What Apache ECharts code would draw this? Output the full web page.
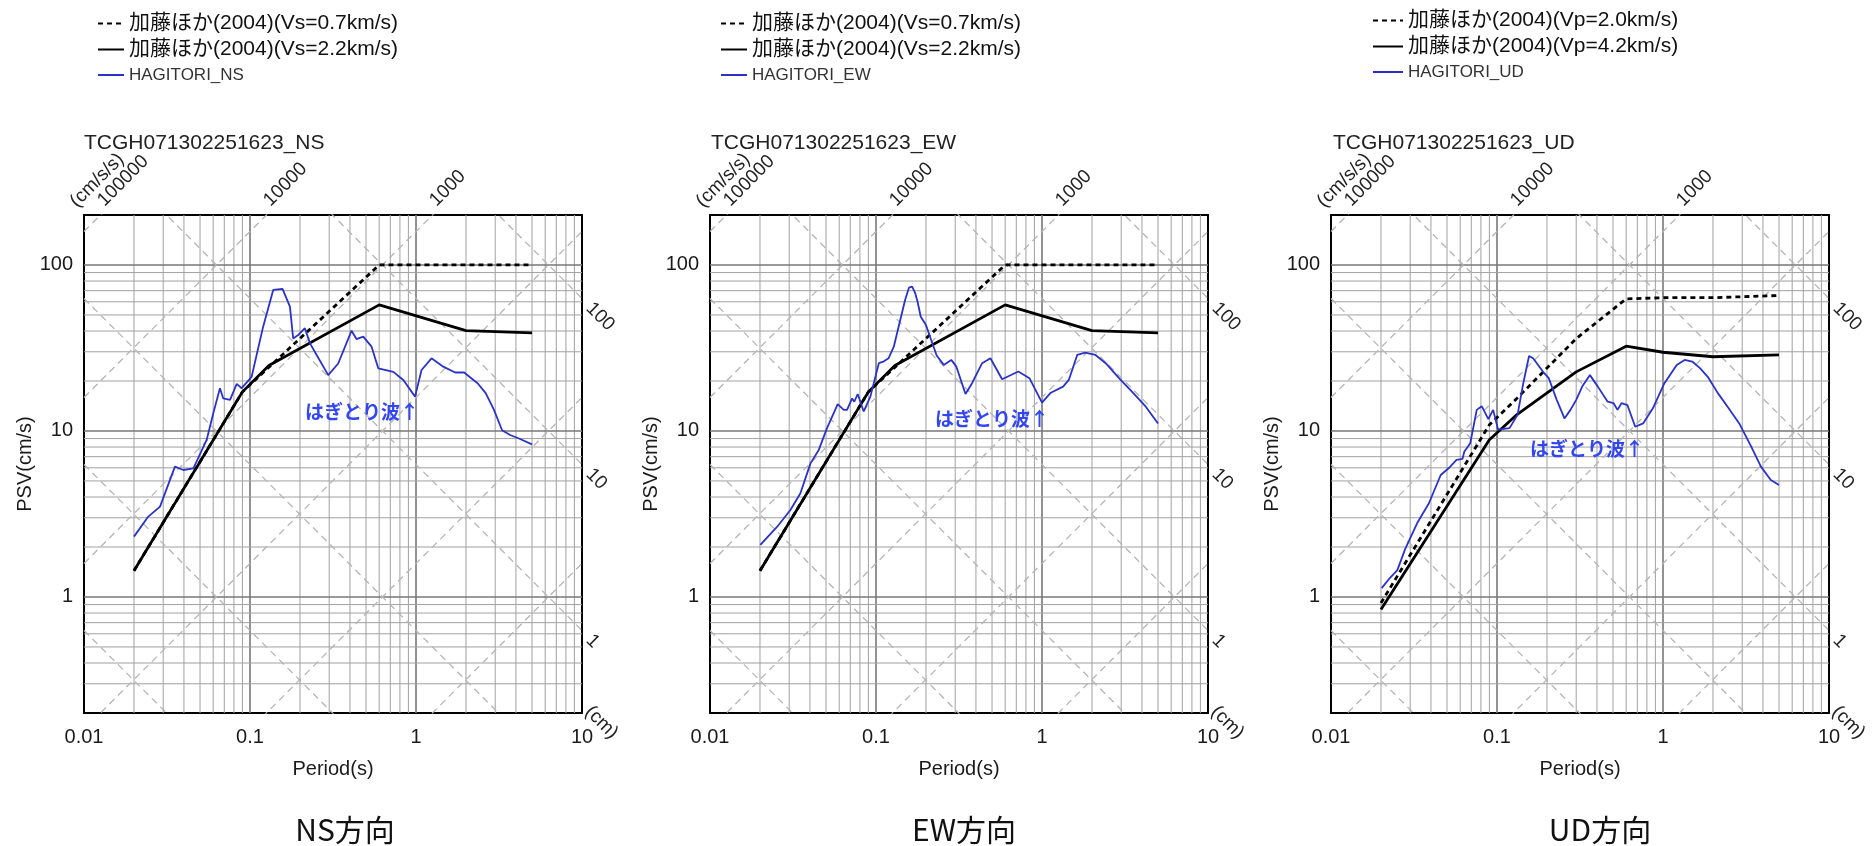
<!DOCTYPE html>
<html>
<head>
<meta charset="utf-8">
<script src="https://cdn.jsdelivr.net/npm/echarts@6/dist/echarts.min.js"></script>
<style>
  html, body { margin: 0; padding: 0; background: #ffffff; }
  #chart { width: 1876px; height: 846px; }
</style>
</head>
<body>
<div id="chart"></div>
<script>
// Tripartite pseudo-velocity response spectra (NS / EW / UD) compared with
// the Kato et al. (2004) upper-level spectra.

// ---- axis ranges and tripartite reference values ----
const periodRange = [0.01, 10];          // s
const psvRange = [0.2, 200];             // cm/s
const accLines = [1, 10, 100, 1000, 10000, 100000];   // cm/s/s
const dispLines = [0.001, 0.01, 0.1, 1, 10, 100];     // cm
const accLabels = [100000, 10000, 1000];
const dispLabels = [100, 10, 1];

// ---- Kato et al. (2004), horizontal ----
const katoVs07Period = [0.02, 0.09, 0.6, 5.0];
const katoVs07Psv    = [1.44, 17.2, 100, 100];
const katoVs22Period = [0.02, 0.09, 0.13, 0.6, 2.0, 5.0];
const katoVs22Psv    = [1.44, 17.2, 24.8, 57.5, 40.2, 39.0];

// ---- Kato et al. (2004), vertical ----
const katoVp20Period = [0.02, 0.09, 0.13, 0.3, 0.6, 1.0, 2.0, 5.0];
const katoVp20Psv    = [0.92, 10.9, 15.5, 36.0, 62.5, 63.5, 63.5, 65.5];
const katoVp42Period = [0.02, 0.09, 0.13, 0.3, 0.6, 1.0, 2.0, 5.0];
const katoVp42Psv    = [0.84, 8.85, 12.4, 22.7, 32.4, 29.8, 28.0, 28.7];

// ---- stripped (hagitori) waves ----
const nsPeriod = [0.02, 0.0244, 0.0287, 0.0353, 0.0397, 0.0456, 0.0548, 0.0601, 0.0659, 0.069,
  0.0758, 0.0832, 0.0891, 0.1023, 0.12, 0.138, 0.157, 0.174, 0.182, 0.195,
  0.214, 0.23, 0.252, 0.296, 0.34, 0.409, 0.438, 0.481, 0.54, 0.593,
  0.73, 0.839, 0.987, 1.08, 1.24, 1.46, 1.72, 1.95, 2.22, 2.35,
  2.63, 2.95, 3.3, 3.69, 4.14, 5.0];
const nsPsv = [2.31, 3.05, 3.5, 6.1, 5.82, 5.96, 8.83, 12.8, 18.1, 15.7,
  15.4, 19.2, 18.1, 21.2, 42.5, 70.7, 71.7, 56.1, 36.1, 37.8,
  41.6, 33.7, 28.7, 21.7, 25.5, 40.2, 35.8, 37.0, 32.2, 23.8,
  22.7, 20.3, 16.1, 23.3, 27.4, 24.4, 22.5, 22.5, 20.3, 19.4,
  16.9, 13.4, 10.1, 9.46, 9.04, 8.3];

const ewPeriod = [0.0201, 0.0254, 0.0305, 0.035, 0.0403, 0.0452, 0.0507, 0.0588, 0.0639, 0.0669,
  0.0718, 0.074, 0.0776, 0.0843, 0.0925, 0.104, 0.111, 0.119, 0.128, 0.14,
  0.15, 0.158, 0.165, 0.172, 0.178, 0.186, 0.2, 0.215, 0.232, 0.256,
  0.284, 0.305, 0.346, 0.379, 0.436, 0.489, 0.575, 0.72, 0.84, 1.0,
  1.13, 1.34, 1.45, 1.63, 1.82, 2.1, 2.45, 2.91, 3.55, 4.22, 5.0];
const ewPsv = [2.06, 2.65, 3.34, 4.2, 6.38, 7.69, 10.4, 14.5, 13.4, 13.4,
  15.7, 15.0, 16.7, 13.1, 16.1, 25.6, 26.2, 27.4, 32.2, 46.6,
  62, 73, 74, 68, 60, 48.8, 43.5, 35.3, 28.5, 25.0,
  26.8, 24.4, 16.7, 19.4, 25.6, 27.4, 20.5, 22.8, 20.8, 14.8,
  17.0, 18.5, 20.3, 28.7, 29.6, 28.7, 25.3, 20.8, 16.9, 14.0, 11.1];

const udPeriod = [0.0202, 0.0226, 0.0251, 0.028, 0.033, 0.0389, 0.0458, 0.0511, 0.057, 0.062,
  0.0635, 0.069, 0.0755, 0.0809, 0.083, 0.0887, 0.0948, 0.1015, 0.119, 0.133,
  0.144, 0.156, 0.165, 0.189, 0.205, 0.229, 0.255, 0.277, 0.3, 0.326,
  0.363, 0.405, 0.464, 0.504, 0.532, 0.562, 0.611, 0.68, 0.759, 0.869,
  1.02, 1.21, 1.35, 1.5, 1.67, 1.86, 2.14, 2.45, 2.88, 3.4,
  3.89, 4.46, 5.0];
const udPsv = [1.13, 1.3, 1.45, 1.95, 2.78, 3.67, 5.43, 5.96, 6.69, 6.8,
  7.5, 8.43, 13.4, 14.1, 14.0, 11.8, 13.4, 10.2, 10.4, 12.5,
  19.4, 28.3, 27.4, 22.8, 20.8, 15.4, 11.9, 13.4, 15.4, 18.5,
  21.7, 18.5, 15.0, 14.7, 13.4, 14.7, 14.3, 10.6, 11.1, 13.7,
  19.4, 25.0, 26.8, 26.2, 23.9, 21.2, 16.9, 14.0, 11.1, 8.04,
  6.1, 5.07, 4.73];

// ---- panel text ----
const panelTitles = ['TCGH071302251623_NS', 'TCGH071302251623_EW', 'TCGH071302251623_UD'];
const panelCaptions = ['NS方向', 'EW方向', 'UD方向'];
const annotationText = 'はぎとり波↑';

const zip = (t, v) => t.map((x, k) => [x, v[k]]);

const panels = [
  { dashName: '加藤ほか(2004)(Vs=0.7km/s)', solidName: '加藤ほか(2004)(Vs=2.2km/s)', waveName: 'HAGITORI_NS',
    dash: zip(katoVs07Period, katoVs07Psv), solid: zip(katoVs22Period, katoVs22Psv), wave: zip(nsPeriod, nsPsv) },
  { dashName: '加藤ほか(2004)(Vs=0.7km/s)', solidName: '加藤ほか(2004)(Vs=2.2km/s)', waveName: 'HAGITORI_EW',
    dash: zip(katoVs07Period, katoVs07Psv), solid: zip(katoVs22Period, katoVs22Psv), wave: zip(ewPeriod, ewPsv) },
  { dashName: '加藤ほか(2004)(Vp=2.0km/s)', solidName: '加藤ほか(2004)(Vp=4.2km/s)', waveName: 'HAGITORI_UD',
    dash: zip(katoVp20Period, katoVp20Psv), solid: zip(katoVp42Period, katoVp42Psv), wave: zip(udPeriod, udPsv) }
];

// ---- layout ----
const gridLeft = [84, 710, 1331];
const gridTop = 215, gridSize = 498;
const legendPos = [
  { left: 92, top: 8, itemWidth: 26 },
  { left: 715, top: 8, itemWidth: 26 },
  { left: 1367, top: 5, itemWidth: 30 }
];
const titlePos = [[84, 143], [711, 143], [1333, 143]];
const captionPos = [[345, 830], [964, 830], [1600, 830]];
const notePos = [[305, 412], [935, 419], [1530, 449]];

const LATIN = "'Liberation Sans', 'Noto Sans CJK JP', sans-serif";
const CJK = "'Noto Sans CJK JP', 'Liberation Sans', sans-serif";
const INK = '#1a1a1a';
const BLUE = '#2b33c6';

// log-paper grid values inside the plotting box
const decadesT = [0.01, 0.1, 1];
const decadesV = [0.1, 1, 10, 100];
const mults = [2, 3, 4, 5, 6, 7, 8, 9];
const periodMinor = decadesT.flatMap(d => mults.map(m => +(d * m).toPrecision(3)));
const periodMajor = [0.1, 1];
const psvMinor = decadesV.flatMap(d => mults.map(m => +(d * m).toPrecision(3)))
  .filter(v => v > psvRange[0] + 1e-9 && v < psvRange[1] - 1e-9);
const psvMajor = [1, 10, 100];

const isDecade = v => { const e = Math.log10(v); return Math.abs(e - Math.round(e)) < 1e-6; };
const fmt = v => isDecade(v) ? String(Number(v.toPrecision(3))) : '';

const grids = [], xAxes = [], yAxes = [], series = [], legends = [];

panels.forEach((p, i) => {
  grids.push({ left: gridLeft[i], top: gridTop, width: gridSize, height: gridSize,
    show: true, borderColor: '#000', borderWidth: 2, backgroundColor: 'transparent' });
  xAxes.push({ type: 'log', logBase: 10, gridIndex: i, min: periodRange[0], max: periodRange[1],
    name: 'Period(s)', nameLocation: 'middle', nameGap: 46,
    nameTextStyle: { fontFamily: LATIN, fontSize: 20, color: INK },
    axisLine: { show: false }, axisTick: { show: false }, splitLine: { show: false },
    axisLabel: { formatter: fmt, fontFamily: LATIN, fontSize: 20, color: INK, margin: 14 } });
  yAxes.push({ type: 'log', logBase: 10, gridIndex: i, min: psvRange[0], max: psvRange[1],
    name: 'PSV(cm/s)', nameLocation: 'middle', nameGap: 48, nameRotate: 90,
    nameTextStyle: { fontFamily: LATIN, fontSize: 20, color: INK },
    axisLine: { show: false }, axisTick: { show: false }, splitLine: { show: false },
    axisLabel: { formatter: fmt, fontFamily: LATIN, fontSize: 20, color: INK, margin: 11 } });

  const base = { type: 'line', xAxisIndex: i, yAxisIndex: i, symbol: 'none', silent: true,
    animation: false, clip: true };

  // log-paper grid
  periodMinor.forEach(t => series.push({ ...base, z: 1, data: [[t, psvRange[0]], [t, psvRange[1]]],
    lineStyle: { color: '#a0a0a0', width: 1 } }));
  periodMajor.forEach(t => series.push({ ...base, z: 1, data: [[t, psvRange[0]], [t, psvRange[1]]],
    lineStyle: { color: '#777777', width: 1.6 } }));
  psvMinor.forEach(v => series.push({ ...base, z: 1, data: [[periodRange[0], v], [periodRange[1], v]],
    lineStyle: { color: '#a0a0a0', width: 1 } }));
  psvMajor.forEach(v => series.push({ ...base, z: 1, data: [[periodRange[0], v], [periodRange[1], v]],
    lineStyle: { color: '#777777', width: 1.6 } }));

  // tripartite diagonals: constant acceleration and constant displacement
  accLines.forEach(a => series.push({ ...base, z: 2,
    data: periodRange.map(t => [t, a * t / (2 * Math.PI)]),
    lineStyle: { color: '#b5b5b5', width: 1.3, type: [7, 5] } }));
  dispLines.forEach(d => series.push({ ...base, z: 2,
    data: periodRange.map(t => [t, 2 * Math.PI * d / t]),
    lineStyle: { color: '#b5b5b5', width: 1.3, type: [7, 5] } }));

  // spectra
  series.push({ ...base, silent: false, z: 5, name: p.dashName, data: p.dash,
    itemStyle: { color: '#000' }, lineStyle: { color: '#000', width: 2.8, type: [5, 4] } });
  series.push({ ...base, silent: false, z: 5, name: p.solidName, data: p.solid,
    itemStyle: { color: '#000' }, lineStyle: { color: '#000', width: 2.8 } });
  series.push({ ...base, silent: false, z: 6, name: p.waveName, data: p.wave,
    itemStyle: { color: BLUE }, lineStyle: { color: BLUE, width: 1.8 } });

  legends.push({
    orient: 'vertical', left: legendPos[i].left, top: legendPos[i].top,
    itemWidth: legendPos[i].itemWidth, itemHeight: 14, itemGap: 5, selectedMode: false,
    itemStyle: { opacity: 0, borderWidth: 0 },
    textStyle: { fontFamily: LATIN, fontSize: 21, color: '#111', lineHeight: 20 },
    data: [
      { name: p.dashName },
      { name: p.solidName },
      { name: p.waveName, textStyle: { fontSize: 17, color: '#333', lineHeight: 20 } }
    ]
  });
});

const chart = echarts.init(document.getElementById('chart'), null, { renderer: 'canvas' });
chart.setOption({
  backgroundColor: '#ffffff',
  animation: false,
  grid: grids, xAxis: xAxes, yAxis: yAxes, legend: legends, series: series
});

// ---- text overlays positioned through the axes ----
const graphics = [];
const txt = (x, y, text, opt) => graphics.push({
  type: 'text', x: x, y: y, rotation: opt.rotation || 0, silent: true, z: 20,
  style: { text: text, fill: opt.color || INK, fontSize: opt.size || 19, fontFamily: opt.family || LATIN,
    fontWeight: opt.weight || 'normal', align: opt.align || 'left', verticalAlign: opt.valign || 'middle' }
});

panels.forEach((p, i) => {
  const px = (t, v) => chart.convertToPixel({ gridIndex: i }, [t, v]);
  txt(titlePos[i][0], titlePos[i][1], panelTitles[i], { size: 21, color: '#222' });
  txt(captionPos[i][0], captionPos[i][1], panelCaptions[i], { size: 30, family: CJK, color: '#111', align: 'center' });
  txt(notePos[i][0], notePos[i][1], annotationText, { size: 19, family: CJK, color: '#3346f0', weight: 'bold' });

  // acceleration scale labels where the lines leave the top edge
  accLabels.forEach(a => {
    const tTop = 2 * Math.PI * psvRange[1] / a;
    const q = px(tTop, psvRange[1]);
    txt(q[0] + 7, q[1] - 5, String(a), { rotation: Math.PI / 4, valign: 'bottom', color: '#222' });
  });
  const corner = px(periodRange[0], psvRange[1]);
  txt(corner[0] - 4, corner[1] - 4, '(cm/s/s)', { rotation: Math.PI / 4, valign: 'bottom', color: '#222' });

  // displacement scale labels where the lines leave the right edge
  dispLabels.forEach(d => {
    const vEdge = 2 * Math.PI * d / periodRange[1];
    const q = px(periodRange[1], vEdge);
    txt(q[0] + 7, q[1] + 7, String(d), { rotation: -Math.PI / 4, color: '#222' });
  });
  const br = px(periodRange[1], psvRange[0]);
  txt(br[0] + 6, br[1] - 4, '(cm)', { rotation: -Math.PI / 4, color: '#222' });
});

chart.setOption({ graphic: graphics });
</script>
</body>
</html>
